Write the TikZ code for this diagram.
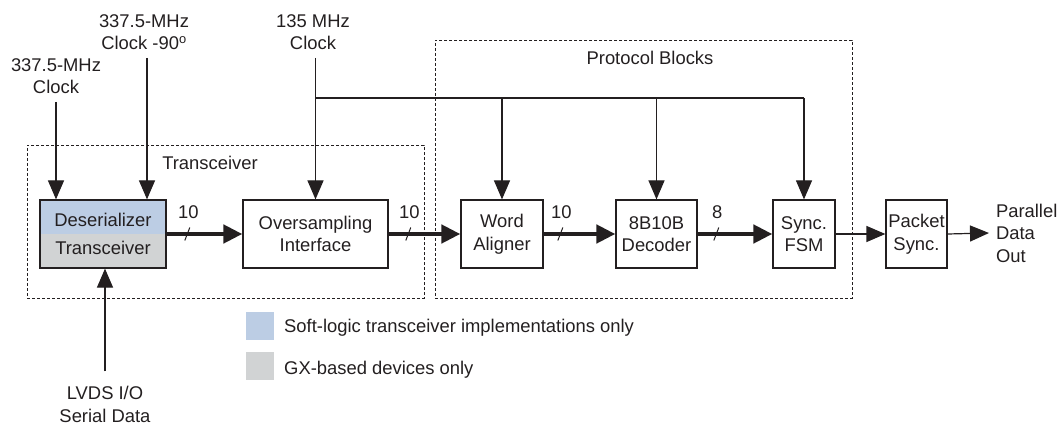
\documentclass[tikz,border=0pt]{standalone}
\usepackage{fontspec}
\setmainfont{Liberation Sans}
\usetikzlibrary{arrows.meta,calc}
\definecolor{softblue}{RGB}{188,205,228}
\definecolor{gxgray}{RGB}{209,211,212}
\definecolor{ink}{RGB}{35,31,32}
\begin{document}
\begin{tikzpicture}[x=1pt,y=-1pt,
  every node/.style={font=\fontsize{18.4}{22.5}\selectfont, text=ink},
  box/.style={draw=ink, line width=1.2pt, minimum height=68pt, inner sep=2pt, align=center},
  grp/.style={draw=ink, line width=0.9pt, dash pattern=on 3pt off 2pt, inner sep=0pt},
  ln/.style={draw=ink, line width=1.2pt},
  arr/.style={ln, -{Triangle[length=19pt,width=16pt]}},
  bus/.style={draw=ink, line width=4.5pt, -{Triangle[length=19pt,width=18pt]}},
  slashmark/.style={draw=ink, line width=1pt},
  lbl/.style={align=center, inner sep=0pt},
  clklbl/.style={lbl, outer ysep=8pt},
  legsq/.style={minimum width=28pt, minimum height=28pt, inner sep=0pt},
]
\useasboundingbox (0,0) rectangle (1058,425);

% group boxes
\node[grp, minimum width=397pt, minimum height=153pt] (trx) at (225.5,221.5) {};
\node[grp, minimum width=417pt, minimum height=258pt] (prot) at (643.5,169) {};
\node[lbl] (trxlbl) at (210,163) {Transceiver};
\node[lbl] (protlbl) at (650,58) {Protocol Blocks};

% blocks
\node[box, minimum width=126pt,
  path picture={\fill[softblue] (path picture bounding box.north west) rectangle (path picture bounding box.east);
                \fill[gxgray] (path picture bounding box.west) rectangle (path picture bounding box.south east);}]
  (des) at (103,234) {Deserializer\\[6pt]Transceiver};
\node[box, minimum width=145pt] (over) at (315.5,234) {Oversampling\\Interface};
\node[box, minimum width=82pt] (word) at (502,234) {Word\\Aligner};
\node[box, minimum width=81pt] (dec) at (656.5,234) {8B10B\\Decoder};
\node[box, minimum width=62pt] (sync) at (804,234) {Sync.\\FSM};
\node[box, minimum width=61pt, inner xsep=1pt] (pkt) at (916.5,234) {Packet\\Sync.};
\node[lbl, anchor=west, align=left, outer xsep=7pt] (par) at (989,233) {Parallel\\Data\\Out};

% clock labels
\node[clklbl] (clkA) at (56,76) {337.5-MHz\\Clock};
\node[clklbl] (clkB) at (144,32) {337.5-MHz\\Clock -90\textsuperscript{o}};
\node[clklbl] (clkC) at (313,32) {135 MHz\\Clock};
\node[lbl, outer ysep=15pt] (lvds) at (105,404.5) {LVDS I/O\\Serial Data};

% clock connectors
\draw[arr] (clkA.south) -- (clkA.south |- des.north);
\draw[arr] ([xshift=3pt]clkB.south) -- ([xshift=3pt]clkB.south |- des.north);
\draw[arr] (clkC.south -| over.north) -- (over.north);
\coordinate (br) at (315.5,98);
\draw[ln] (br) -- (br -| sync.north);
\draw[arr] (br -| word.north) -- (word.north);
\draw[arr] (br -| dec.north) -- (dec.north);
\draw[arr] (br -| sync.north) -- (sync.north);
\draw[arr] (lvds.north) -- (lvds.north |- des.south);

% data path
\draw[bus] (des.east) -- coordinate[pos=0.273] (s1) (over.west);
\draw[bus] (over.east) -- coordinate[pos=0.274] (s2) (word.west);
\draw[bus] (word.east) -- coordinate[pos=0.233] (s3) (dec.west);
\draw[bus] (dec.east) -- coordinate[pos=0.25] (s4) (sync.west);
\draw[arr] (sync.east) -- (pkt.west);
\draw[arr] (pkt.east) -- (par.west);

\foreach \s/\w in {s1/10, s2/10, s3/10, s4/8}{
  \draw[slashmark] ([shift={(-2.5,6.5)}]\s) -- ([shift={(2.5,-6.5)}]\s);
  \node[lbl] at ([shift={(1,-22)}]\s) {\w};
}

% legend
\node[legsq, fill=softblue] (legA) at (260,326) {};
\node[legsq, fill=gxgray] (legB) at (260,366) {};
\node[lbl, anchor=base west] (legAt) at (284,332) {Soft-logic transceiver implementations only};
\node[lbl, anchor=base west] (legBt) at (284,374) {GX-based devices only};
\end{tikzpicture}
\end{document}
